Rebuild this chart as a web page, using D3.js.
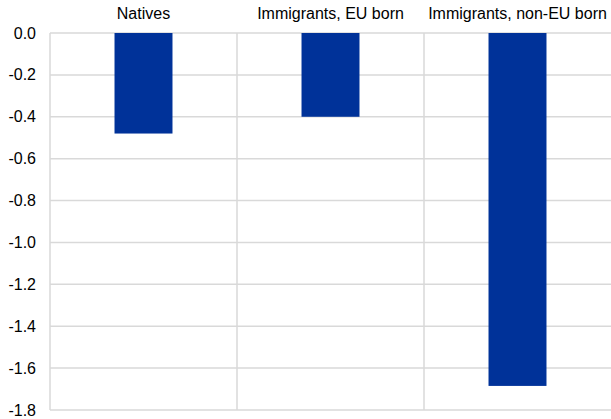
<!DOCTYPE html>
<html><head><meta charset="utf-8">
<script src="https://cdn.jsdelivr.net/npm/d3@7"></script>
<style>body{margin:0;background:#fff}svg{display:block}text{font-family:Arial,"Liberation Sans",sans-serif;fill:#000}</style>
</head><body><svg id="c" width="611" height="419"></svg>
<script>
const categories = ["Natives", "Immigrants, EU born", "Immigrants, non-EU born"];
const values = [-0.48, -0.40, -1.685];
const yTicks = [0, -0.2, -0.4, -0.6, -0.8, -1.0, -1.2, -1.4, -1.6, -1.8];

const svg = d3.select("#c");
const m = {left: 50, right: 0, top: 33, bottom: 9};
const W = 611, H = 419;
const x = d3.scaleBand().domain(categories).range([m.left, W - m.right]).paddingInner(0).paddingOuter(0);
const y = d3.scaleLinear().domain([0, -1.8]).range([m.top, H - m.bottom]);

// horizontal gridlines
svg.append("g").selectAll("line").data(yTicks).join("line")
  .attr("x1", m.left).attr("x2", W - m.right)
  .attr("y1", d => y(d)).attr("y2", d => y(d))
  .attr("stroke", "#d9d9d9").attr("stroke-width", 1.5);

// vertical separators
const seps = [m.left].concat(categories.slice(1).map(c => x(c)));
svg.append("g").selectAll("line").data(seps).join("line")
  .attr("x1", d => d).attr("x2", d => d)
  .attr("y1", m.top).attr("y2", H - m.bottom)
  .attr("stroke", "#d9d9d9").attr("stroke-width", 1.5);

// bars
const bw = x.bandwidth() * 0.31;
svg.append("g").selectAll("rect").data(categories).join("rect")
  .attr("x", (d) => x(d) + x.bandwidth() / 2 - bw / 2)
  .attr("width", bw)
  .attr("y", y(0))
  .attr("height", (d, i) => y(values[i]) - y(0))
  .attr("fill", "#003299");

// y tick labels
svg.append("g").selectAll("text").data(yTicks).join("text")
  .attr("x", 36).attr("y", d => y(d)).attr("dy", "0.35em")
  .attr("text-anchor", "end").attr("font-size", 16)
  .text(d => d3.format(".1f")(d).replace("−", "-"));

// category labels
svg.append("g").selectAll("text").data(categories).join("text")
  .attr("x", d => x(d) + x.bandwidth() / 2).attr("y", 19)
  .attr("text-anchor", "middle").attr("font-size", 16)
  .text(d => d);
</script></body></html>
